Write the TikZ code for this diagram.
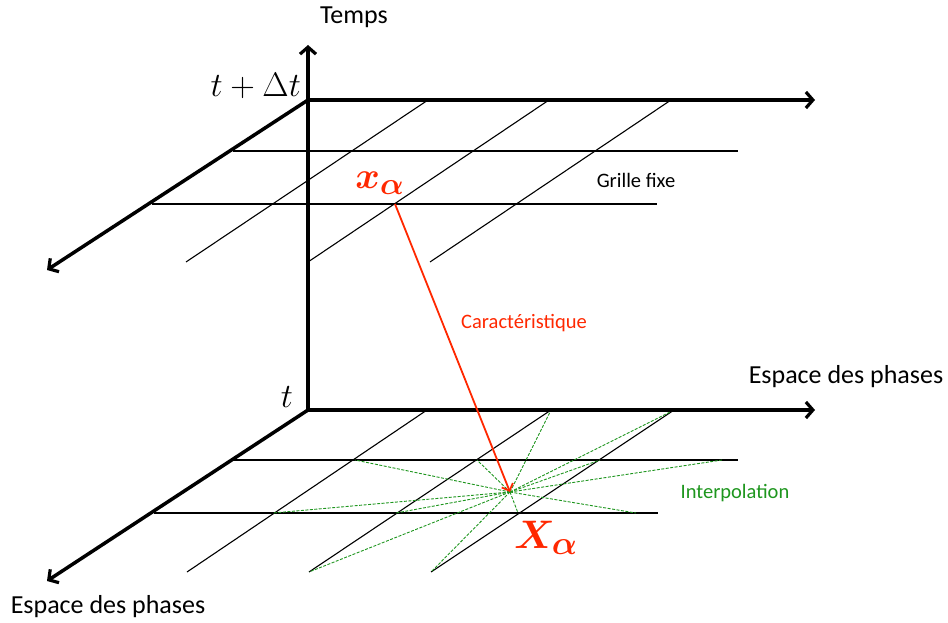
\documentclass[tikz,border=0pt]{standalone}
\usepackage{graphicx}
\usepackage{amsmath}
\usepackage{bm}
\usepackage{fontspec}
\newfontfamily\calib{Carlito}
\usetikzlibrary{arrows.meta}
\definecolor{redline}{RGB}{255,40,0}
\definecolor{greenline}{RGB}{30,150,30}
\tikzset{
  axis/.style={line width=3.5pt,-{Straight Barb[length=7pt,width=16pt,line width=3.2pt]}},
  gridline/.style={line width=1.1pt,black},
  interp/.style={greenline,line width=0.9pt,dash pattern=on 3pt off 1.5pt},
  bigtxt/.style={font=\calib\fontsize{26}{30}\selectfont,inner sep=0pt},
  smalltxt/.style={font=\calib\fontsize{20.5}{24}\selectfont,inner sep=0pt},
  mathlbl/.style={inner sep=0pt},
}
\begin{document}
\begin{tikzpicture}[x=1pt,y=-1pt]
\useasboundingbox[fill=white] (0,0) rectangle (948,623);
% origins and axis tips
\coordinate (O1) at (308,100);
\coordinate (O2) at (308,410);
\coordinate (Ttip) at (308,45);
\coordinate (H1tip) at (815,100);
\coordinate (D1tip) at (47,270);
\coordinate (H2tip) at (815,410);
\coordinate (D2tip) at (47,581);
% top plane grid
\coordinate (ta1) at (233,151); \coordinate (tb1) at (738,151);
\coordinate (ta2) at (152,204); \coordinate (tb2) at (657,204);
\coordinate (tc1) at (428,100); \coordinate (td1) at (186,262);
\coordinate (tc2) at (549,100); \coordinate (td2) at (308,262);
\coordinate (tc3) at (671,100); \coordinate (td3) at (430,262);
\draw[gridline] (ta1) -- (tb1);
\draw[gridline] (ta2) -- (tb2);
\draw[gridline] (tc1) -- (td1);
\draw[gridline] (tc2) -- (td2);
\draw[gridline] (tc3) -- (td3);
% bottom plane grid
\coordinate (ba1) at (233,460); \coordinate (bb1) at (738,460);
\coordinate (ba2) at (154,513); \coordinate (bb2) at (658,513);
\coordinate (bc1) at (427,410); \coordinate (bd1) at (187,572);
\coordinate (bc2) at (551,410); \coordinate (bd2) at (309,572);
\coordinate (bc3) at (674,410); \coordinate (bd3) at (431,572);
\draw[gridline] (ba1) -- (bb1);
\draw[gridline] (ba2) -- (bb2);
\draw[gridline] (bc1) -- (bd1);
\draw[gridline] (bc2) -- (bd2);
\draw[gridline] (bc3) -- (bd3);
% interpolation star
\coordinate (X) at (510,492);
\foreach \p in {(551,410),(674,410),(355,460),(477,460),(600,460),(722,460),(273,513),(396,513),(518,513),(636,513),(309,572),(431,572)}
  \draw[interp] (X) -- \p;
% axes
\draw[axis] (O2) -- (Ttip);
\draw[axis] (O1) -- (H1tip);
\draw[axis] (O1) -- (D1tip);
\draw[axis] (O2) -- (H2tip);
\draw[axis] (O2) -- (D2tip);
% characteristic
\coordinate (xa) at (395,204);
\draw[redline,line width=1.8pt,-{Straight Barb[length=6pt,width=12pt,line width=1.8pt]}] (xa) -- (X);
% labels
\node[bigtxt] (temps) at (354,17) {Temps};
\node[bigtxt] (esp1) at (846,377) {Espace des phases};
\node[bigtxt] (esp2) at (108,607) {Espace des phases};
\node[smalltxt] (grille) at (636,180) {Grille fixe};
\node[smalltxt,text=redline] (carac) at (524,323) {Caractéristique};
\node[smalltxt,text=greenline] (interp) at (735,493) {Interpolation};
\node[mathlbl,anchor=base east] (tdt) at (301,97) {\scalebox{1.37}{\Huge$t+\Delta t$}};
\node[mathlbl,anchor=base east] (t) at (293,407) {\scalebox{1.37}{\Huge$t$}};
\node[mathlbl,text=redline] (xal) at (380,183) {\scalebox{1.5}{\Huge$\bm{x_\alpha}$}};
\node[mathlbl,text=redline] (Xal) at (546,538) {\scalebox{1.6}{\Huge$\bm{X_\alpha}$}};
\end{tikzpicture}
\end{document}
